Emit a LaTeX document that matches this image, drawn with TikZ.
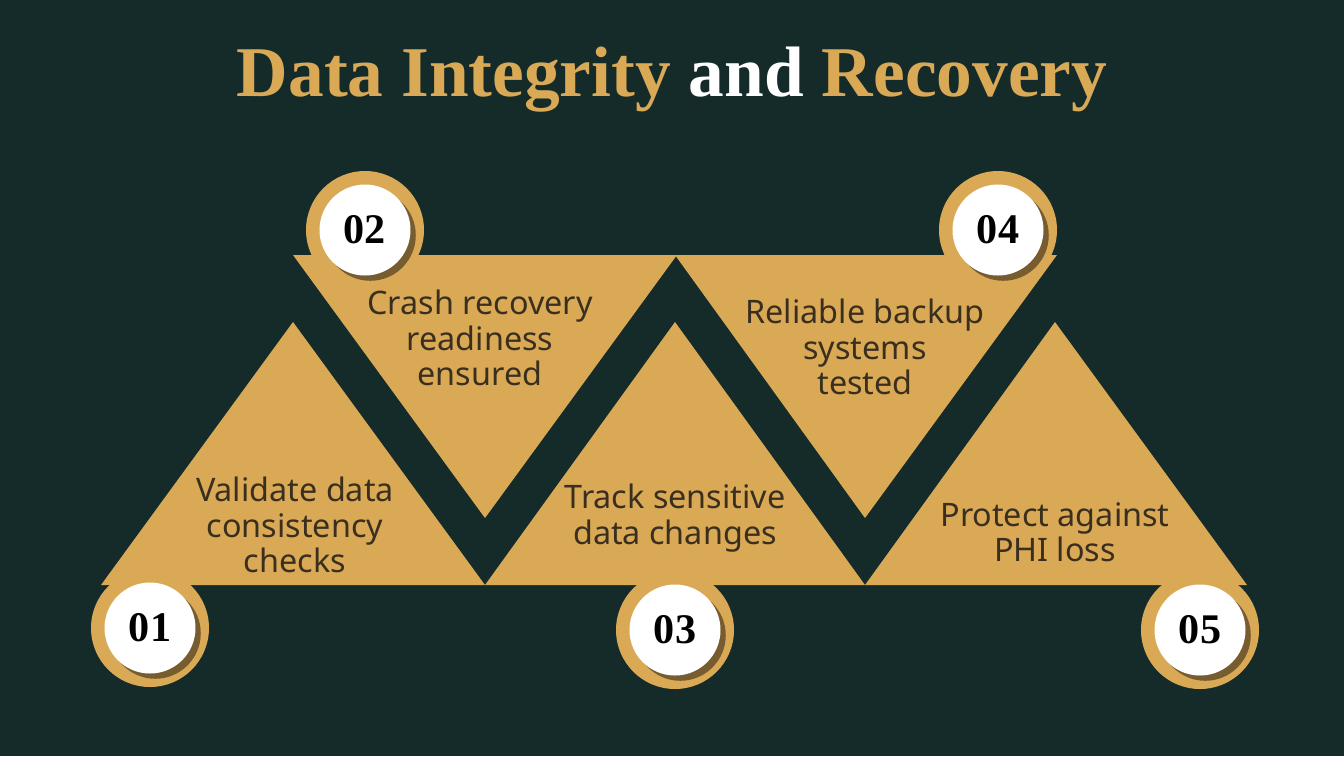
\documentclass[tikz,border=0pt]{standalone}
\usepackage{fontspec}
\setmainfont{Noto Sans}
\newfontfamily\titlefont{Liberation Serif}
\usetikzlibrary{shadows}
\definecolor{bg}{HTML}{142B2A}
\definecolor{gold}{HTML}{D9A956}
\definecolor{ink}{HTML}{3A2F1E}
\newlength{\unitpx}\setlength{\unitpx}{0.01cm}
\tikzset{
  tri/.style={fill=gold},
  ring/.style={circle,fill=gold,minimum size=118\unitpx,inner sep=0pt},
  badge/.style={circle,fill=white,minimum size=91\unitpx,inner sep=0pt,font=\titlefont\bfseries\fontsize{12}{12}\selectfont,text=black,
     drop shadow={shadow xshift=1.5pt,shadow yshift=-1.5pt,opacity=0.45,fill=black}},
  lbl/.style={align=center,text=ink,font=\fontsize{9.2}{10}\selectfont}
}
\begin{document}
\begin{tikzpicture}[x=0.01cm,y=-0.01cm]
\fill[bg] (0,0) rectangle (1344,756);
\useasboundingbox (0,0) rectangle (1344,756);
\node[font=\titlefont\bfseries\fontsize{20.3}{22}\selectfont] (title) at (672,80) {\textcolor{gold}{Data Integrity} \textcolor{white}{and} \textcolor{gold}{Recovery}};
% triangles
\fill[tri] (293,322) -- (485,585) -- (101,585) -- cycle;
\fill[tri] (293,255) -- (677,255) -- (485,518) -- cycle;
\fill[tri] (675,322) -- (865,585) -- (485,585) -- cycle;
\fill[tri] (675,255) -- (1057,255) -- (865,518) -- cycle;
\fill[tri] (1055,322) -- (1247,585) -- (865,585) -- cycle;
% rings and badges
\foreach \n/\x/\y in {01/150/628,02/365/230,03/675/630,04/998/230,05/1200/630}{
  \node[ring] (r\n) at (\x,\y) {};
  \node[badge] (b\n) at (\x,\y) {\n};
}
\node[lbl] (t1) at (295,525) {Validate data\\consistency\\checks};
\node[lbl] (t2) at (480,338) {Crash recovery\\readiness\\ensured};
\node[lbl] (t3) at (675,518) {Track sensitive\\data changes};
\node[lbl] (t4) at (865,347) {Reliable backup\\systems\\tested};
\node[lbl] (t5) at (1055,532) {Protect against\\PHI loss};
\end{tikzpicture}
\end{document}
